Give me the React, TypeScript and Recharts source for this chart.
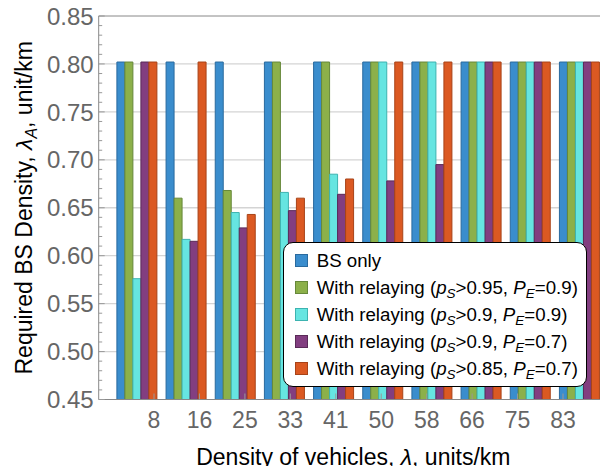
import React from "react";
import {
  BarChart,
  Bar,
  XAxis,
  YAxis,
  CartesianGrid,
  ReferenceLine,
  Legend,
} from "recharts";

// ---------- data ----------
const categories = ["8", "16", "25", "33", "41", "50", "58", "66", "75", "83"];
const bsOnly = [0.802, 0.802, 0.802, 0.802, 0.802, 0.802, 0.802, 0.802, 0.802, 0.802];
const relayS95E9 = [0.802, 0.66, 0.668, 0.802, 0.802, 0.802, 0.802, 0.802, 0.802, 0.802];
const relayS90E9 = [0.576, 0.617, 0.645, 0.666, 0.685, 0.802, 0.802, 0.802, 0.802, 0.802];
const relayS90E7 = [0.802, 0.615, 0.629, 0.647, 0.664, 0.678, 0.695, 0.802, 0.802, 0.802];
const relayS85E7 = [0.802, 0.802, 0.643, 0.66, 0.68, 0.802, 0.802, 0.802, 0.802, 0.802];

const yAllTicks: number[] = [];
for (let c = 45; c <= 85; c++) yAllTicks.push(c / 100);
const yGridValues = [0.5, 0.55, 0.6, 0.65, 0.7, 0.75, 0.8];

const FONT = "'Liberation Sans', Arial, Helvetica, sans-serif";

type SeriesDef = {
  key: string;
  name: string;
  ps?: string;
  pe?: string;
  fill: string;
  stroke: string;
};

const series: SeriesDef[] = [
  { key: "bs", name: "BS only", fill: "#3A8DCD", stroke: "#2A6A9E" },
  { key: "r1", name: "With relaying", ps: "0.95", pe: "0.9", fill: "#8CB04A", stroke: "#66883A" },
  { key: "r2", name: "With relaying", ps: "0.9", pe: "0.9", fill: "#66E5E1", stroke: "#3DB3B0" },
  { key: "r3", name: "With relaying", ps: "0.9", pe: "0.7", fill: "#823E80", stroke: "#5A2A58" },
  { key: "r4", name: "With relaying", ps: "0.85", pe: "0.7", fill: "#DB5922", stroke: "#A84318" },
];

const data = categories.map((label, i) => ({
  label,
  idx: i,
  bs: bsOnly[i],
  r1: relayS95E9[i],
  r2: relayS90E9[i],
  r3: relayS90E7[i],
  r4: relayS85E7[i],
}));

// ---------- custom ticks / labels ----------
const YTick = (props: any) => {
  const { x, y, payload } = props;
  const v = payload.value as number;
  const major = Math.round(v * 100) % 5 === 0;
  return (
    <g>
      <line x1={x} x2={x + (major ? 6 : 3.5)} y1={y} y2={y} stroke="#999" strokeWidth={1} />
      {major && (
        <text
          x={x - 5}
          y={y}
          dy="0.36em"
          textAnchor="end"
          fill="#666"
          fontSize={24}
          fontFamily={FONT}
        >
          {v.toFixed(2)}
        </text>
      )}
    </g>
  );
};

const XTick = (props: any) => {
  const { x, y, payload } = props;
  const i = payload.value as number;
  return (
    <g>
      <line x1={x} x2={x} y1={y} y2={y - 6} stroke="#999" strokeWidth={1} />
      <text x={x} y={y + 28} textAnchor="middle" fill="#666" fontSize={23} fontFamily={FONT}>
        {categories[i]}
      </text>
    </g>
  );
};

const XTitle = (props: any) => {
  const vb = props.viewBox || {};
  const cx = vb.x + vb.width / 2;
  return (
    <text x={cx} y={vb.y + 65.5} textAnchor="middle" fill="#000" fontSize={23} fontFamily={FONT}>
      Density of vehicles, <tspan fontStyle="italic">λ</tspan>, units/km
    </text>
  );
};

const YTitle = (props: any) => {
  const vb = props.viewBox || {};
  const cy = vb.y + vb.height / 2;
  const bx = 23.5;
  return (
    <text
      x={bx}
      y={cy}
      transform={`rotate(-90 ${bx} ${cy})`}
      textAnchor="middle"
      fill="#000"
      fontSize={23}
      fontFamily={FONT}
    >
      Required BS Density, <tspan fontStyle="italic">λ</tspan>
      <tspan fontStyle="italic" fontSize={16} dy={5}>A</tspan>
      <tspan dy={-5}>, unit/km</tspan>
    </text>
  );
};

const subStyle: React.CSSProperties = {
  fontSize: 13.5,
  fontStyle: "italic",
  verticalAlign: "-4px",
  lineHeight: 0,
};

const renderLegend = () => (
  <div
    style={{
      boxSizing: "border-box",
      width: 304,
      height: 145,
      border: "1.5px solid #000",
      borderRadius: 10,
      background: "#fff",
      padding: "4px 0 0 11px",
      fontFamily: FONT,
      fontSize: 18.7,
      color: "#000",
    }}
  >
    {series.map((s) => (
      <div key={s.key} style={{ display: "flex", alignItems: "center", height: 27 }}>
        <span
          style={{
            display: "inline-block",
            boxSizing: "border-box",
            width: 13,
            height: 13,
            background: s.fill,
            border: `1px solid ${s.stroke}`,
            marginRight: 9,
            flex: "none",
          }}
        />
        <span style={{ whiteSpace: "nowrap", lineHeight: "27px" }}>
          {s.ps ? (
            <>
              {s.name} (<i>p</i>
              <span style={subStyle}>S</span>&gt;{s.ps}, <i>P</i>
              <span style={subStyle}>E</span>={s.pe})
            </>
          ) : (
            s.name
          )}
        </span>
      </div>
    ))}
  </div>
);

export default function App() {
  return (
    <BarChart
      width={600}
      height={458}
      data={data}
      margin={{ top: 8, right: 0, bottom: 0, left: 0 }}
      barCategoryGap={4}
      barGap={0}
    >
      <CartesianGrid
        xAxisId="cat"
        yAxisId="y"
        vertical={false}
        horizontalValues={yGridValues}
        stroke="#d4d4d4"
        strokeWidth={1.3}
      />
      <XAxis xAxisId="cat" dataKey="label" hide height={0} padding={{ left: 14.2, right: 3.4 }} />
      <XAxis
        xAxisId="lab"
        dataKey="idx"
        type="number"
        domain={[-1.217, 9.99]}
        allowDataOverflow
        ticks={categories.map((_, i) => i)}
        interval={0}
        tickSize={0}
        tickMargin={0}
        tickLine={false}
        tick={<XTick />}
        axisLine={{ stroke: "#888", strokeWidth: 1 }}
        height={66.5}
        label={<XTitle />}
      />
      <YAxis
        yAxisId="y"
        type="number"
        domain={[0.45, 0.85]}
        allowDataOverflow
        ticks={yAllTicks}
        interval={0}
        tickSize={0}
        tickMargin={0}
        tickLine={false}
        tick={<YTick />}
        axisLine={{ stroke: "#888", strokeWidth: 1 }}
        width={90.7}
        label={<YTitle />}
      />
      <ReferenceLine xAxisId="cat" yAxisId="y" y={0.85} stroke="#888" strokeWidth={1} ifOverflow="visible" />
      {series.map((s) => (
        <Bar
          key={s.key}
          xAxisId="cat"
          yAxisId="y"
          dataKey={s.key}
          name={s.name}
          fill={s.fill}
          stroke={s.stroke}
          strokeWidth={1}
          isAnimationActive={false}
        />
      ))}
      <Legend
        layout="vertical"
        align="center"
        verticalAlign="middle"
        content={renderLegend}
        wrapperStyle={{ left: 274.7, top: 233.7, width: 304, height: 145 }}
      />
    </BarChart>
  );
}
